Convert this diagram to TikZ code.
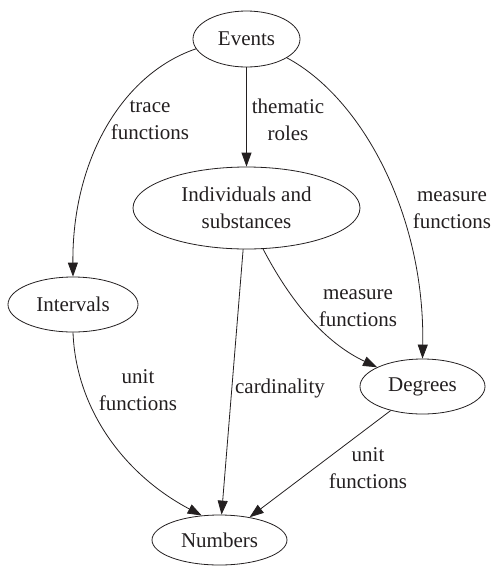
\documentclass[tikz,border=0pt]{standalone}
\usepackage{fontspec}
\setmainfont{Liberation Serif}
\usetikzlibrary{shapes.geometric,arrows.meta}
\definecolor{ink}{HTML}{231F20}
\tikzset{
  nodebox/.style={draw=ink, ellipse, inner sep=0pt, line width=0.8pt, text=ink, align=center},
  edge/.style={draw=ink, line width=0.8pt, -{Triangle[length=14pt,width=10pt]}},
  lbl/.style={text=ink, align=center, inner sep=0pt}
}
\begin{document}
\begin{tikzpicture}[x=1pt,y=-1pt,font=\fontsize{21}{27}\selectfont]
\useasboundingbox (0,0) rectangle (494,566);
\node[nodebox, minimum width=107pt, minimum height=56pt] (ev) at (246.5,39) {Events};
\node[nodebox, minimum width=227pt, minimum height=82pt] (ind) at (246.5,208) {Individuals and\\substances};
\node[nodebox, minimum width=130pt, minimum height=55pt] (int) at (73,304.5) {Intervals};
\node[nodebox, minimum width=125pt, minimum height=55pt] (deg) at (422.5,386.5) {Degrees};
\node[nodebox, minimum width=135pt, minimum height=50pt] (num) at (219.5,540) {Numbers};

\draw[edge] (ev.191) .. controls (122,74) and (72,160) .. (int.north);
\draw[edge] (ev) -- (ind);
\draw[edge] (ev.335) .. controls (362,98) and (425,215) .. (deg.north);
\draw[edge] (ind.292) .. controls (295,310) and (330,345) .. (deg.157);
\draw[edge] (ind) -- (num);
\draw[edge] (int.south) .. controls (76,410) and (125,475) .. (num.126);
\draw[edge] (deg) -- (num);

\node[lbl] (l1) at (150,120) {trace\\functions};
\node[lbl] (l2) at (288,120) {thematic\\roles};
\node[lbl] (l3) at (452,210) {measure\\functions};
\node[lbl] (l4) at (358,308) {measure\\functions};
\node[lbl] (l5) at (138,390) {unit\\functions};
\node[lbl] (l6) at (280,388) {cardinality};
\node[lbl] (l7) at (368,468) {unit\\functions};
\end{tikzpicture}
\end{document}
